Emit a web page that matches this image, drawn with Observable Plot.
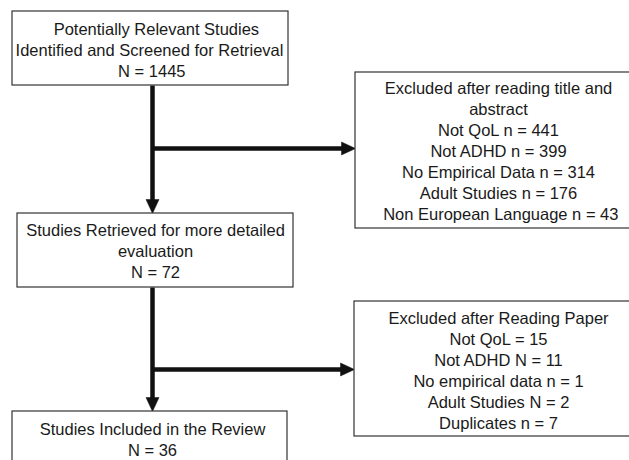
<!DOCTYPE html>
<html>
<head>
<meta charset="utf-8">
<script src="https://cdn.jsdelivr.net/npm/d3@7"></script>
<script src="https://cdn.jsdelivr.net/npm/@observablehq/plot@0.6"></script>
<style>
  html, body { margin: 0; padding: 0; background: #fff; overflow: hidden; }
  #chart svg { overflow: hidden; }
</style>
</head>
<body>
<div id="chart"></div>
<script>
// ---- Data ----
const stageLabels = [
  "   Potentially Relevant Studies\nIdentified and Screened for Retrieval",
  "Studies Retrieved for more detailed\nevaluation",
  "Studies Included in the Review"
];
const stageCounts = [1445, 72, 36];

const excluded1Header = "Excluded after reading title and\nabstract";
const excluded1Labels = ["Not QoL n", "Not ADHD n", "No Empirical Data n", "Adult Studies n", " Non European Language n"];
const excluded1Counts = [441, 399, 314, 176, 43];

const excluded2Header = "Excluded after Reading Paper";
const excluded2Labels = ["Not QoL", "Not ADHD N", "No empirical data n", "Adult Studies N", "Duplicates n"];
const excluded2Counts = [15, 11, 1, 2, 7];

// ---- Box texts ----
const texts = [
  stageLabels[0] + "\n N = " + stageCounts[0],
  excluded1Header + "\n" + excluded1Labels.map((l, i) => `${l} = ${excluded1Counts[i]}`).join("\n"),
  stageLabels[1] + "\nN = " + stageCounts[1],
  excluded2Header + "\n" + excluded2Labels.map((l, i) => `${l} = ${excluded2Counts[i]}`).join("\n"),
  stageLabels[2] + "\nN = " + stageCounts[2]
];

// ---- Layout (diagram geometry) ----
const layout = [
  {x1: 12,  x2: 288, y1: 11,  y2: 85,  tx: 149, ty: 48.5},
  {x1: 355, x2: 641, y1: 72,  y2: 228, tx: 498, ty: 150},
  {x1: 17,  x2: 293, y1: 213, y2: 287, tx: 155, ty: 250},
  {x1: 354, x2: 641, y1: 301, y2: 436, tx: 498, ty: 369},
  {x1: 12,  x2: 287, y1: 411, y2: 480, tx: 152, ty: 438.5}
];
const boxes = layout.map((b, i) => ({...b, text: texts[i]}));

// connectors: plain segments and arrows (ending at box edges)
const spineX = 152;
const segments = [
  {x1: spineX, y1: 85,  x2: spineX, y2: 213, arrow: true},
  {x1: spineX, y1: 148, x2: 355,    y2: 148, arrow: true},
  {x1: spineX, y1: 287, x2: spineX, y2: 411, arrow: true},
  {x1: spineX, y1: 369, x2: 354,    y2: 369, arrow: true}
];
const headLen = 14, headHalf = 6.5;
const shafts = segments.map(s => {
  const dx = s.x2 - s.x1, dy = s.y2 - s.y1, L = Math.hypot(dx, dy);
  const ux = dx / L, uy = dy / L;
  return {x1: s.x1, y1: s.y1, x2: s.x2 - ux * (headLen - 1), y2: s.y2 - uy * (headLen - 1)};
});
const heads = segments.flatMap((s, k) => {
  const dx = s.x2 - s.x1, dy = s.y2 - s.y1, L = Math.hypot(dx, dy);
  const ux = dx / L, uy = dy / L, px = -uy, py = ux;
  const bx = s.x2 - ux * headLen, by = s.y2 - uy * headLen;
  return [
    {k, x: s.x2, y: s.y2},
    {k, x: bx + px * headHalf, y: by + py * headHalf},
    {k, x: bx - px * headHalf, y: by - py * headHalf},
    {k, x: s.x2, y: s.y2}
  ];
});

const font = "'Liberation Sans', Arial, Helvetica, sans-serif";

const chart = Plot.plot({
  width: 629,
  height: 460,
  margin: 0,
  style: {background: "#fff", fontFamily: font},
  x: {domain: [0, 629], range: [0, 629], axis: null},
  y: {domain: [0, 460], range: [0, 460], axis: null},
  marks: [
    Plot.link(shafts, {x1: "x1", y1: "y1", x2: "x2", y2: "y2", stroke: "#111", strokeWidth: 4.5, strokeLinecap: "butt"}),
    Plot.line(heads, {x: "x", y: "y", z: "k", fill: "#111", stroke: "#111", strokeWidth: 0.5, curve: "linear-closed"}),
    Plot.rect(boxes, {x1: "x1", x2: "x2", y1: "y1", y2: "y2", fill: "#fff", stroke: "#333", strokeWidth: 1.2}),
    Plot.text(boxes, {x: "tx", y: "ty", text: "text", fontSize: 16.5, lineHeight: 1.27, lineAnchor: "middle", textAnchor: "middle", fill: "#1a1a1a", fontFamily: font})
  ]
});
document.getElementById("chart").appendChild(chart);
</script>
</body>
</html>
